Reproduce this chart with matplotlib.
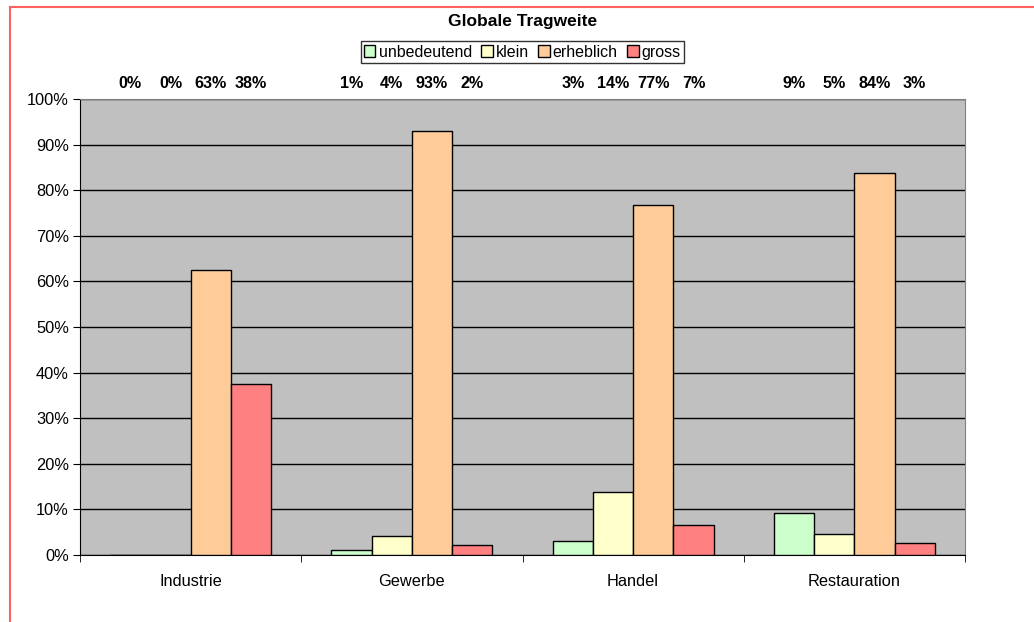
import matplotlib.pyplot as plt
import numpy as np
from matplotlib.lines import Line2D
from matplotlib.patches import Patch
from matplotlib.transforms import blended_transform_factory

plt.rcParams["font.family"] = ["Liberation Sans", "DejaVu Sans"]
plt.rcParams["font.size"] = 11.8

categories = ["Industrie", "Gewerbe", "Handel", "Restauration"]
series_names = ["unbedeutend", "klein", "erheblich", "gross"]
unbedeutend = [0.0, 1.1, 3.1, 9.3]
klein = [0.0, 4.2, 13.8, 4.5]
erheblich = [62.5, 93.0, 76.8, 83.7]
gross = [37.5, 2.1, 6.6, 2.6]
top_labels = [
    ["0%", "0%", "63%", "38%"],
    ["1%", "4%", "93%", "2%"],
    ["3%", "14%", "77%", "7%"],
    ["9%", "5%", "84%", "3%"],
]
colors = ["#CCFFCC", "#FFFFCC", "#FFCC99", "#FF8080"]

fig = plt.figure(figsize=(10.34, 6.22), dpi=100)
ax = fig.add_axes([80 / 1034, 1 - 555 / 622, 885 / 1034, 456 / 622])
ax.set_facecolor("#C0C0C0")

x = np.arange(len(categories))
width = 1 / 5.5
all_series = [unbedeutend, klein, erheblich, gross]
trans = blended_transform_factory(ax.transData, ax.transAxes)
for i, (vals, color) in enumerate(zip(all_series, colors)):
    pos = x + (i - 1.5) * width
    ax.bar(pos, vals, width, color=color, edgecolor="black", linewidth=1, zorder=3)
    for j, p in enumerate(pos):
        ax.text(p, 1.035, top_labels[j][i], transform=trans, ha="center",
                va="center", fontweight="bold", fontsize=11.6)

ax.set_xlim(-0.5, len(categories) - 0.5)
ax.set_ylim(0, 100)
ax.set_yticks(np.arange(0, 101, 10))
ax.set_yticklabels([f"{v}%" for v in range(0, 101, 10)])
ax.yaxis.grid(True, color="black", linewidth=1, zorder=1)
ax.set_axisbelow(True)

ax.set_xticks(x)
ax.set_xticklabels(categories)
ax.tick_params(axis="x", length=0, pad=14)
ax.set_xticks(np.arange(-0.5, len(categories), 1), minor=True)
ax.tick_params(axis="x", which="minor", length=5, direction="out")
ax.tick_params(axis="y", length=5, direction="out", pad=3)

for s in ["top", "right"]:
    ax.spines[s].set_color("#808080")
for s in ["left", "bottom"]:
    ax.spines[s].set_color("black")

handles = [Patch(facecolor=c, edgecolor="black", label=n) for c, n in zip(colors, series_names)]
leg = ax.legend(handles=handles, loc="center", bbox_to_anchor=(0.5, 1.103), ncol=4,
                frameon=True, fancybox=False, edgecolor="black", handlelength=0.7,
                handleheight=0.7, handletextpad=0.2, columnspacing=0.6,
                borderpad=0.2, fontsize=11.5)
leg.get_frame().set_linewidth(1)

ax.text(0.5, 1.169, "Globale Tragweite", transform=ax.transAxes, ha="center",
        va="center", fontweight="bold", fontsize=12.5)

# red outer frame (only top and left visible)
fx = 10 / 1034
fy = 1 - 7 / 622
fig.add_artist(Line2D([fx, 1.0], [fy, fy], transform=fig.transFigure, color="#FF6060", linewidth=1.5))
fig.add_artist(Line2D([fx, fx], [0.0, fy], transform=fig.transFigure, color="#FF6060", linewidth=1.5))

fig.savefig("out.png", dpi=100, facecolor="white")
